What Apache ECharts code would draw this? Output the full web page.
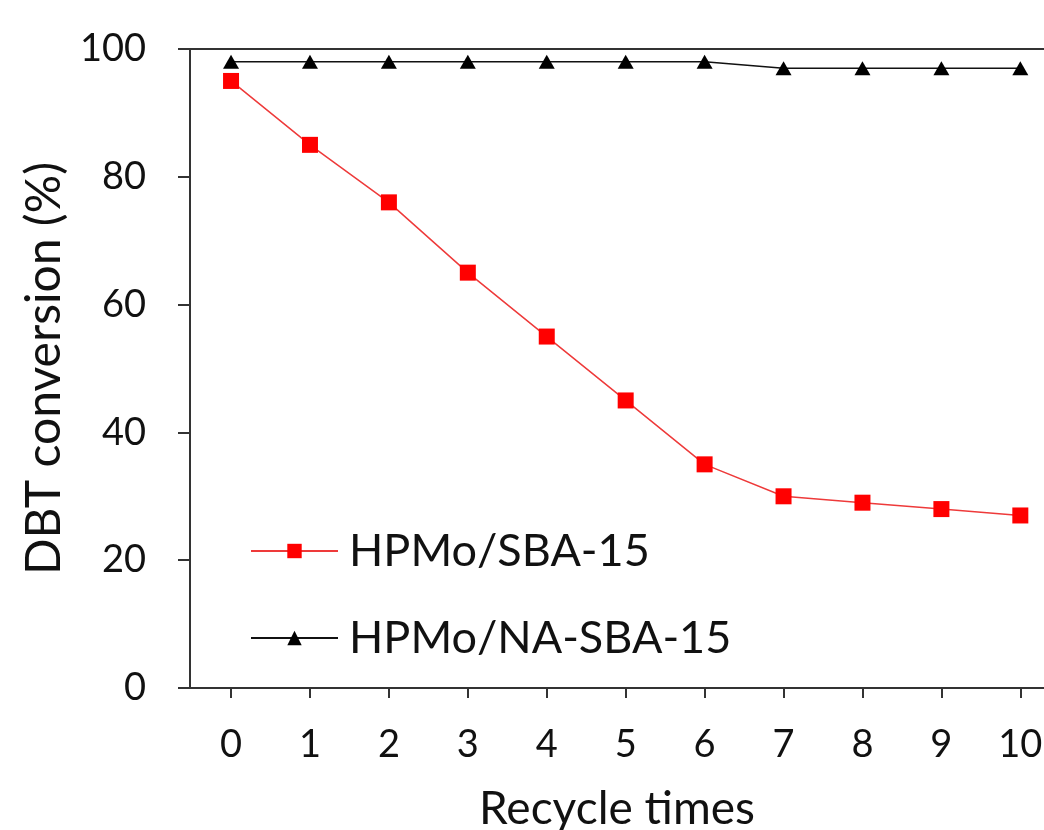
<!DOCTYPE html>
<html>
<head>
<meta charset="utf-8">
<script src="https://cdn.jsdelivr.net/npm/echarts@6/dist/echarts.min.js"></script>
<style>
  html, body { margin: 0; padding: 0; background: #fff; }
  #chart { width: 1044px; height: 830px; }
</style>
</head>
<body>
<div id="chart"></div>
<script>
const cycles = [0, 1, 2, 3, 4, 5, 6, 7, 8, 9, 10];
const sbaValues = [95, 85, 76, 65, 55, 45, 35, 30, 29, 28, 27];
const naSbaValues = [98, 98, 98, 98, 98, 98, 98, 97, 97, 97, 97];
const yTicks = [0, 20, 40, 60, 80, 100];

const font = "Lato";
const axisColor = "#333";

const chart = echarts.init(document.getElementById("chart"));

const option = {
  animation: false,
  grid: {
    left: 190,
    right: 0,
    top: 49,
    bottom: 142,
    containLabel: false,
    outerBoundsMode: "none",
  },
  legend: {
    orient: "vertical",
    left: 245,
    top: 523,
    itemWidth: 87,
    itemHeight: 18,
    itemGap: 41,
    textStyle: {
      fontFamily: font,
      fontSize: 45,
      lineHeight: 46,
      color: "#111",
      padding: [0, 0, 0, 6],
    },
    data: ["HPMo/SBA-15", "HPMo/NA-SBA-15"],
  },
  xAxis: [
    {
      type: "value",
      min: -0.52,
      max: 10.3,
      name: "Recycle times",
      nameLocation: "middle",
      nameGap: 98,
      nameTextStyle: { fontFamily: font, fontSize: 46, color: "#111" },
      axisLine: { show: true, onZero: false, lineStyle: { color: axisColor, width: 2 } },
      axisTick: {
        show: true,
        length: 10,
        customValues: cycles,
        lineStyle: { color: axisColor, width: 2 },
      },
      axisLabel: {
        customValues: cycles,
        margin: 38,
        fontFamily: font,
        fontSize: 38,
        color: "#111",
      },
      splitLine: { show: false },
    },
    {
      type: "value",
      position: "top",
      min: -0.52,
      max: 10.3,
      axisLine: { show: true, onZero: false, lineStyle: { color: axisColor, width: 2 } },
      axisTick: { show: false },
      axisLabel: { show: false },
      splitLine: { show: false },
    },
  ],
  yAxis: {
    type: "value",
    min: 0,
    max: 100,
    interval: 20,
    name: "DBT conversion (%)",
    nameLocation: "middle",
    nameGap: 118,
    nameTextStyle: { fontFamily: font, fontSize: 48, color: "#111" },
    axisLine: { show: true, onZero: false, lineStyle: { color: axisColor, width: 2 } },
    axisTick: { show: true, length: 12, lineStyle: { color: axisColor, width: 2 } },
    axisLabel: {
      margin: 44,
      fontFamily: font,
      fontSize: 38,
      color: "#111",
      formatter: (v) => (yTicks.includes(v) ? String(v) : ""),
    },
    splitLine: { show: false },
  },
  series: [
    {
      name: "HPMo/SBA-15",
      type: "line",
      data: cycles.map((c, i) => [c, sbaValues[i]]),
      symbol: "rect",
      symbolSize: 16,
      itemStyle: { color: "#ff0000" },
      lineStyle: { color: "#ee3a3a", width: 1.5 },
    },
    {
      name: "HPMo/NA-SBA-15",
      type: "line",
      data: cycles.map((c, i) => [c, naSbaValues[i]]),
      symbol: "triangle",
      symbolSize: [16, 14],
      itemStyle: { color: "#000" },
      lineStyle: { color: "#111", width: 1.5 },
    },
  ],
};

chart.setOption(option);
</script>
</body>
</html>
